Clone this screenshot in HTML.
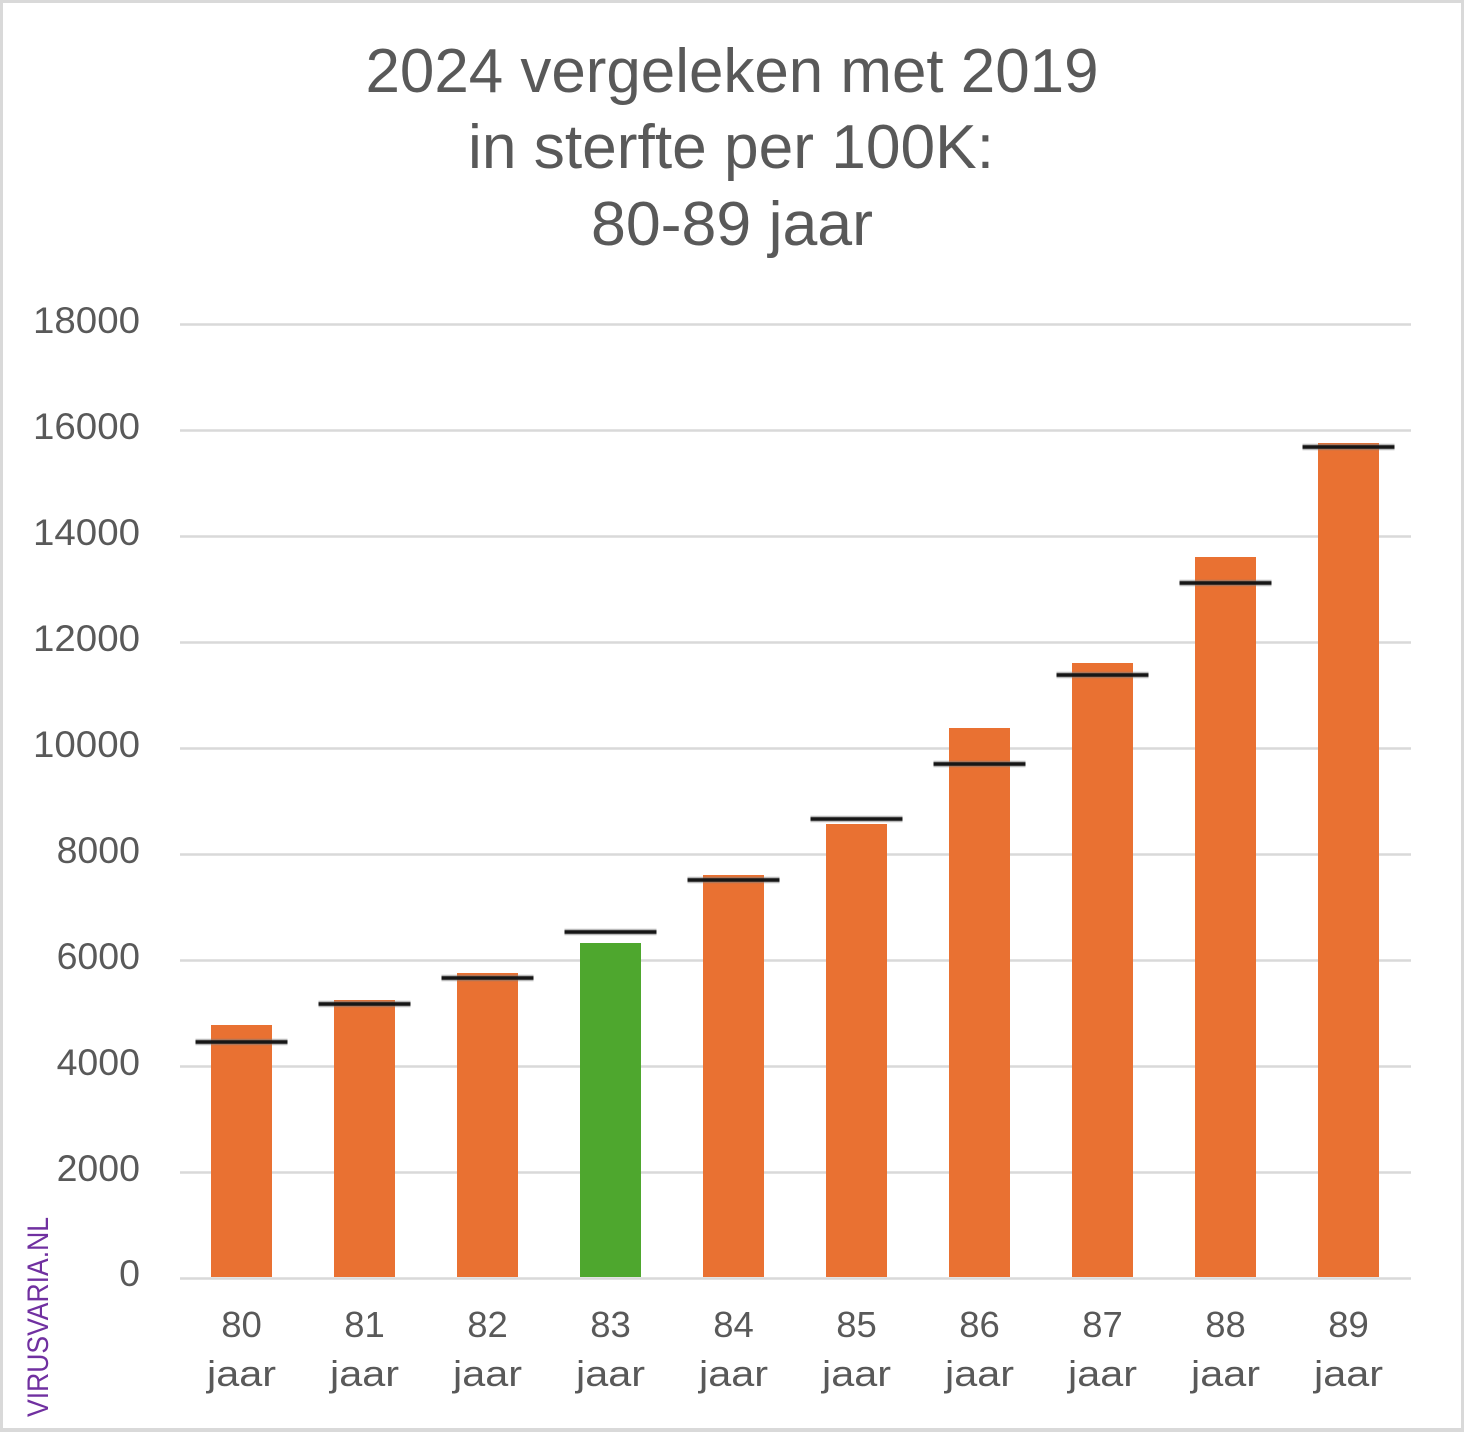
<!DOCTYPE html>
<html>
<head>
<meta charset="utf-8">
<style>
  html, body { margin: 0; padding: 0; background: #ffffff; }
  svg { display: block; }
  text { font-family: "Liberation Sans", "DejaVu Sans", sans-serif; fill: #595959; }
</style>
</head>
<body>
<svg width="1464" height="1432" viewBox="0 0 1464 1432" xmlns="http://www.w3.org/2000/svg">
  <rect x="0" y="0" width="1464" height="1432" fill="#ffffff"/>
  <!-- border -->
  <rect x="0" y="0" width="1464" height="3" fill="#d9d9d9"/>
  <rect x="0" y="0" width="3" height="1432" fill="#d9d9d9"/>
  <rect x="1461" y="0" width="3" height="1432" fill="#d9d9d9"/>
  <rect x="0" y="1428" width="1464" height="4" fill="#d9d9d9"/>

  <!-- title -->
  <text x="732" y="92" font-size="62" text-anchor="middle" textLength="733" lengthAdjust="spacingAndGlyphs">2024 vergeleken met 2019</text>
  <text x="731" y="168" font-size="62" text-anchor="middle" textLength="526" lengthAdjust="spacingAndGlyphs">in sterfte per 100K:</text>
  <text x="732" y="245" font-size="62" text-anchor="middle" textLength="282" lengthAdjust="spacingAndGlyphs">80-89 jaar</text>

  <!-- gridlines -->
  <g stroke="#d9d9d9" stroke-width="2.5">
    <line x1="180" y1="324.5" x2="1411" y2="324.5"/>
    <line x1="180" y1="430.5" x2="1411" y2="430.5"/>
    <line x1="180" y1="536.5" x2="1411" y2="536.5"/>
    <line x1="180" y1="642.5" x2="1411" y2="642.5"/>
    <line x1="180" y1="748.5" x2="1411" y2="748.5"/>
    <line x1="180" y1="854.5" x2="1411" y2="854.5"/>
    <line x1="180" y1="960.5" x2="1411" y2="960.5"/>
    <line x1="180" y1="1066.5" x2="1411" y2="1066.5"/>
    <line x1="180" y1="1172.5" x2="1411" y2="1172.5"/>
  </g>

  <!-- y labels -->
  <g font-size="37.5" text-anchor="end">
    <text x="140" y="333" textLength="107" lengthAdjust="spacingAndGlyphs">18000</text>
    <text x="140" y="439" textLength="107" lengthAdjust="spacingAndGlyphs">16000</text>
    <text x="140" y="545" textLength="107" lengthAdjust="spacingAndGlyphs">14000</text>
    <text x="140" y="651" textLength="107" lengthAdjust="spacingAndGlyphs">12000</text>
    <text x="140" y="757" textLength="107" lengthAdjust="spacingAndGlyphs">10000</text>
    <text x="140" y="863">8000</text>
    <text x="140" y="969">6000</text>
    <text x="140" y="1075">4000</text>
    <text x="140" y="1181">2000</text>
    <text x="140" y="1286">0</text>
  </g>

  <!-- bars -->
  <g fill="#e97132">
    <rect x="211" y="1025" width="61" height="252"/>
    <rect x="334" y="1000" width="61" height="277"/>
    <rect x="457" y="973" width="61" height="304"/>
    <rect x="703" y="875" width="61" height="402"/>
    <rect x="826" y="824" width="61" height="453"/>
    <rect x="949" y="728" width="61" height="549"/>
    <rect x="1072" y="663" width="61" height="614"/>
    <rect x="1195" y="557" width="61" height="720"/>
    <rect x="1318" y="443" width="61" height="834"/>
  </g>
  <rect x="580" y="943" width="61" height="334" fill="#4ea72e"/>

  <!-- axis -->
  <line x1="180" y1="1278.5" x2="1411" y2="1278.5" stroke="#d9d9d9" stroke-width="2.5"/>

  <!-- 2019 markers -->
  <g stroke="#7a7a7a" stroke-width="6.5" opacity="0.5">
    <line x1="195.5" y1="1042" x2="287.5" y2="1042"/>
    <line x1="318.5" y1="1004" x2="410.5" y2="1004"/>
    <line x1="441.5" y1="978" x2="533.5" y2="978"/>
    <line x1="564.5" y1="932" x2="656.5" y2="932"/>
    <line x1="687.5" y1="880" x2="779.5" y2="880"/>
    <line x1="810.5" y1="819" x2="902.5" y2="819"/>
    <line x1="933.5" y1="764" x2="1025.5" y2="764"/>
    <line x1="1056.5" y1="675" x2="1148.5" y2="675"/>
    <line x1="1179.5" y1="583" x2="1271.5" y2="583"/>
    <line x1="1302.5" y1="447" x2="1394.5" y2="447"/>
  </g>
  <g stroke="#161616" stroke-width="3.5">
    <line x1="195.5" y1="1042" x2="287.5" y2="1042"/>
    <line x1="318.5" y1="1004" x2="410.5" y2="1004"/>
    <line x1="441.5" y1="978" x2="533.5" y2="978"/>
    <line x1="564.5" y1="932" x2="656.5" y2="932"/>
    <line x1="687.5" y1="880" x2="779.5" y2="880"/>
    <line x1="810.5" y1="819" x2="902.5" y2="819"/>
    <line x1="933.5" y1="764" x2="1025.5" y2="764"/>
    <line x1="1056.5" y1="675" x2="1148.5" y2="675"/>
    <line x1="1179.5" y1="583" x2="1271.5" y2="583"/>
    <line x1="1302.5" y1="447" x2="1394.5" y2="447"/>
  </g>

  <!-- category labels -->
  <g font-size="36.5" text-anchor="middle">
    <text x="241.5" y="1337">80</text>
    <text x="364.5" y="1337">81</text>
    <text x="487.5" y="1337">82</text>
    <text x="610.5" y="1337">83</text>
    <text x="733.5" y="1337">84</text>
    <text x="856.5" y="1337">85</text>
    <text x="979.5" y="1337">86</text>
    <text x="1102.5" y="1337">87</text>
    <text x="1225.5" y="1337">88</text>
    <text x="1348.5" y="1337">89</text>
  </g>
  <g font-size="36.5" text-anchor="middle">
    <text x="241.5" y="1386" textLength="69" lengthAdjust="spacingAndGlyphs">jaar</text>
    <text x="364.5" y="1386" textLength="69" lengthAdjust="spacingAndGlyphs">jaar</text>
    <text x="487.5" y="1386" textLength="69" lengthAdjust="spacingAndGlyphs">jaar</text>
    <text x="610.5" y="1386" textLength="69" lengthAdjust="spacingAndGlyphs">jaar</text>
    <text x="733.5" y="1386" textLength="69" lengthAdjust="spacingAndGlyphs">jaar</text>
    <text x="856.5" y="1386" textLength="69" lengthAdjust="spacingAndGlyphs">jaar</text>
    <text x="979.5" y="1386" textLength="69" lengthAdjust="spacingAndGlyphs">jaar</text>
    <text x="1102.5" y="1386" textLength="69" lengthAdjust="spacingAndGlyphs">jaar</text>
    <text x="1225.5" y="1386" textLength="69" lengthAdjust="spacingAndGlyphs">jaar</text>
    <text x="1348.5" y="1386" textLength="69" lengthAdjust="spacingAndGlyphs">jaar</text>
  </g>

  <!-- watermark -->
  <text transform="translate(48,1417) rotate(-90)" font-size="30" style="fill:#7030a0" textLength="200" lengthAdjust="spacingAndGlyphs">VIRUSVARIA.NL</text>
</svg>
</body>
</html>
